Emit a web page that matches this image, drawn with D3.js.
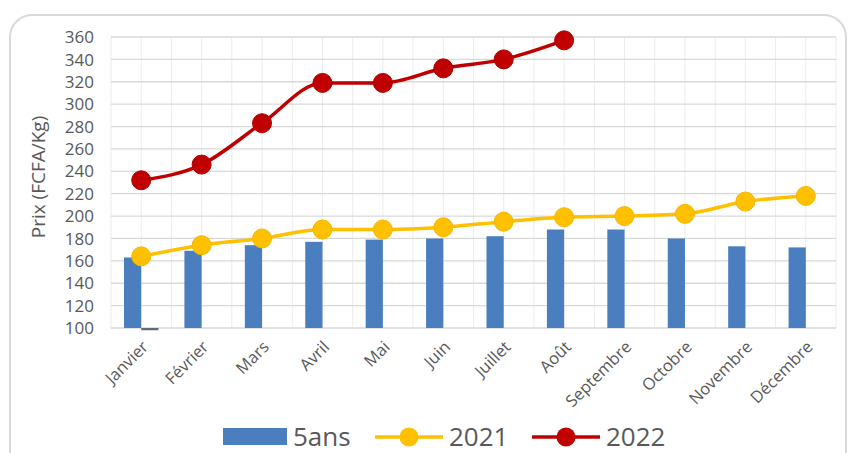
<!DOCTYPE html>
<html><head><meta charset="utf-8">
<script src="https://cdn.jsdelivr.net/npm/d3@7"></script>
<style>body{margin:0;background:#fff;}svg{display:block;font-family:"Open Sans",sans-serif;}</style>
</head><body>
<svg id="c" width="851" height="453"></svg>
<script>
const months = ["Janvier","Février","Mars","Avril","Mai","Juin","Juillet","Août","Septembre","Octobre","Novembre","Décembre"];
const cinqAns = [163,169,174,177,179,180,182,188,188,180,173,172];
const autre   = [98,null,null,null,null,null,null,null,null,null,null,null];
const y2021   = [164,174,180,188,188,190,195,199,200,202,213,218];
const y2022   = [232,246,283,319,319,332,340,357];
const yTicks  = [100,120,140,160,180,200,220,240,260,280,300,320,340,360];

const svg = d3.select("#c");
const L=111, R=836, T=37, B=328;
const x = d3.scaleBand().domain(months).range([L,R]).padding(0);
const bw = x.bandwidth();
const xs = d3.scaleBand().domain(["5ans","autre"]).range([13, bw-13]).padding(0);
const y = d3.scaleLinear().domain([100,360]).range([B,T]);
const txt = "#595959";

// outer frame
svg.append("rect").attr("x",10).attr("y",15).attr("width",836).attr("height",460)
  .attr("rx",22).attr("fill","#fff").attr("stroke","#d9d9d9").attr("stroke-width",2);

// vertical gridlines (band edges and centers)
const vx = [];
months.forEach(m=>{vx.push(x(m)); vx.push(x(m)+bw/2);});
vx.push(R);
svg.append("g").selectAll("line").data(vx).join("line")
  .attr("x1",d=>d).attr("x2",d=>d).attr("y1",T).attr("y2",B)
  .attr("stroke","#ececec").attr("stroke-width",1);

// horizontal gridlines
svg.append("g").selectAll("line").data(yTicks).join("line")
  .attr("x1",L).attr("x2",R).attr("y1",d=>y(d)).attr("y2",d=>y(d))
  .attr("stroke","#d9d9d9").attr("stroke-width",1.3);

// y labels
svg.append("g").selectAll("text").data(yTicks).join("text")
  .attr("x",94).attr("y",d=>y(d)).attr("dy","0.36em").attr("text-anchor","end")
  .attr("font-size",17).attr("fill",txt).text(d=>d);

// y title
svg.append("text").attr("transform","translate(45,177) rotate(-90)")
  .attr("text-anchor","middle").attr("font-size",19).attr("fill",txt).text("Prix (FCFA/Kg)");

// bars
svg.append("g").selectAll("rect").data(cinqAns).join("rect")
  .attr("x",(d,i)=>x(months[i])+xs("5ans")).attr("width",xs.bandwidth())
  .attr("y",d=>y(d)).attr("height",d=>y(100)-y(d)).attr("fill","#4a7ebf");
svg.append("g").selectAll("rect").data(autre.map((v,i)=>({v,i})).filter(d=>d.v!=null)).join("rect")
  .attr("x",d=>x(months[d.i])+xs("autre")).attr("width",xs.bandwidth())
  .attr("y",y(100)).attr("height",d=>y(d.v)-y(100)).attr("fill","#5f6b7d");

// x labels
svg.append("g").selectAll("text").data(months).join("text")
  .attr("transform",m=>`translate(${x(m)+bw/2+8},${B+20}) rotate(-45)`)
  .attr("text-anchor","end").attr("font-size",16.5).attr("fill",txt).text(m=>m);

// lines
function series(vals,color,stroke){
  const pts = vals.map((v,i)=>[x(months[i])+bw/2, y(v)]);
  svg.append("path").attr("d",d3.line().curve(d3.curveMonotoneX)(pts))
    .attr("fill","none").attr("stroke",color).attr("stroke-width",3.5);
  svg.append("g").selectAll("circle").data(pts).join("circle")
    .attr("cx",d=>d[0]).attr("cy",d=>d[1]).attr("r",9.5)
    .attr("fill",color).attr("stroke",stroke).attr("stroke-width",1);
}
series(y2021,"#ffc000","#f5b800");
series(y2022,"#c00000","#b00000");

// legend
const ly = 437;
svg.append("rect").attr("x",223).attr("y",ly-9).attr("width",64).attr("height",17).attr("fill","#4a7ebf");
svg.append("text").attr("x",293).attr("y",ly).attr("dy","0.36em").attr("font-size",26).attr("fill",txt).text("5ans");
[[375,"#ffc000","2021"],[532,"#c00000","2022"]].forEach(([lx,c,t])=>{
  svg.append("line").attr("x1",lx).attr("x2",lx+68).attr("y1",ly).attr("y2",ly).attr("stroke",c).attr("stroke-width",3.5);
  svg.append("circle").attr("cx",lx+34).attr("cy",ly).attr("r",9.5).attr("fill",c);
  svg.append("text").attr("x",lx+74).attr("y",ly).attr("dy","0.36em").attr("font-size",26).attr("fill",txt).text(t);
});
</script>
</body></html>
